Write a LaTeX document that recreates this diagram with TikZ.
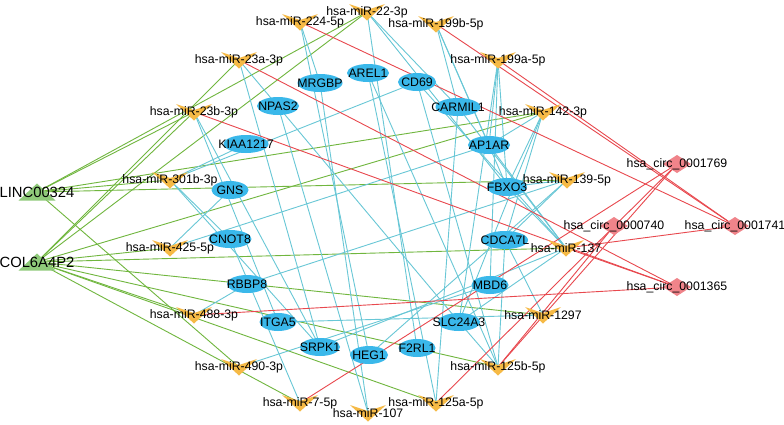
\documentclass[tikz,border=0pt]{standalone}
\usepackage{fontspec}
\setmainfont{Liberation Sans}
\pgfdeclarelayer{background}
\pgfsetlayers{background,main}
\definecolor{genefill}{RGB}{58,184,234}
\definecolor{mirfill}{RGB}{246,186,70}
\definecolor{circfill}{RGB}{240,132,138}
\definecolor{lncfill}{RGB}{143,202,122}
\definecolor{lncline}{RGB}{112,182,62}
\definecolor{mirline}{RGB}{104,199,214}
\definecolor{circline}{RGB}{232,72,78}
\begin{document}
\begin{tikzpicture}[x=1pt,y=-1pt,
  every node/.style={font=\fontsize{12.3}{14}\selectfont,inner sep=0pt},
  gene/.style={minimum width=#1,minimum height=19pt,
    path picture={\fill[genefill] (path picture bounding box.center) ellipse [x radius=0.5*#1,y radius=9pt];}},
  gene/.default=42pt,
  mir/.style={minimum width=38pt,minimum height=19pt,
    path picture={\coordinate (pp) at (path picture bounding box.center);
      \fill[mirfill] ([xshift=-18pt,yshift=8pt]pp) -- ([yshift=2pt]pp) -- ([xshift=18pt,yshift=8pt]pp) -- ([yshift=-8.5pt]pp) -- cycle;}},
  circ/.style={minimum width=30pt,minimum height=19pt,
    path picture={\coordinate (pp) at (path picture bounding box.center);
      \fill[circfill] ([xshift=-14pt]pp) -- ([yshift=9pt]pp) -- ([xshift=14pt]pp) -- ([yshift=-9pt]pp) -- cycle;}},
  lnc/.style={minimum width=38pt,minimum height=19pt,font=\fontsize{14.8}{17}\selectfont,
    path picture={\coordinate (pp) at (path picture bounding box.center);
      \fill[lncfill] ([xshift=-18.5pt,yshift=-8.5pt]pp) -- ([xshift=18.5pt,yshift=-8.5pt]pp) -- ([yshift=8.5pt]pp) -- cycle;}},
  lncedge/.style={draw=lncline,line width=0.9pt},
  miredge/.style={draw=mirline,line width=0.9pt},
  circedge/.style={draw=circline,line width=0.9pt}]
\useasboundingbox (0,0) rectangle (784,424);
% lncRNAs
\node[lnc] (LINC) at (37,192) {LINC00324};
\node[lnc] (COL) at (37,262) {COL6A4P2};
% miRNAs
\node[mir] (m22) at (367,12) {hsa-miR-22-3p};
\node[mir] (m224) at (300,22) {hsa-miR-224-5p};
\node[mir] (m199b) at (436,24) {hsa-miR-199b-5p};
\node[mir] (m23a) at (239,60) {hsa-miR-23a-3p};
\node[mir] (m199a) at (498,60) {hsa-miR-199a-5p};
\node[mir] (m23b) at (194,112) {hsa-miR-23b-3p};
\node[mir] (m142) at (543,112) {hsa-miR-142-3p};
\node[mir] (m301b) at (170,180) {hsa-miR-301b-3p};
\node[mir] (m139) at (567,180) {hsa-miR-139-5p};
\node[mir] (m425) at (170,248) {hsa-miR-425-5p};
\node[mir] (m137) at (566,248) {hsa-miR-137};
\node[mir] (m488) at (194,315) {hsa-miR-488-3p};
\node[mir] (m1297) at (543,315) {hsa-miR-1297};
\node[mir] (m490) at (239,367) {hsa-miR-490-3p};
\node[mir] (m125b) at (498,367) {hsa-miR-125b-5p};
\node[mir] (m7) at (300,403) {hsa-miR-7-5p};
\node[mir] (m125a) at (436,403) {hsa-miR-125a-5p};
\node[mir] (m107) at (368,413) {hsa-miR-107};
% mRNAs
\node[gene=45pt] (MRGBP) at (320,83) {MRGBP};
\node[gene] (AREL1) at (368,73) {AREL1};
\node[gene=38pt] (CD69) at (417,82) {CD69};
\node[gene] (NPAS2) at (278,106) {NPAS2};
\node[gene=45pt] (CARMIL1) at (458,107) {CARMIL1};
\node[gene] (AP1AR) at (489,145) {AP1AR};
\node[gene=40pt] (FBXO3) at (507,187) {FBXO3};
\node[gene=45pt] (KIAA1217) at (246,144) {KIAA1217};
\node[gene=37pt] (GNS) at (230,190) {GNS};
\node[gene=43pt] (CNOT8) at (230,239) {CNOT8};
\node[gene=46pt] (CDCA7L) at (505,240) {CDCA7L};
\node[gene=40pt] (RBBP8) at (247,284) {RBBP8};
\node[gene=37pt] (MBD6) at (490,285) {MBD6};
\node[gene=37pt] (ITGA5) at (278,322) {ITGA5};
\node[gene=42pt] (SLC24A3) at (459,322) {SLC24A3};
\node[gene=40pt] (SRPK1) at (320,347) {SRPK1};
\node[gene=37pt] (F2RL1) at (417,348) {F2RL1};
\node[gene=38pt] (HEG1) at (369,355) {HEG1};
% circRNAs
\node[circ] (c1769) at (677,164) {hsa\_circ\_0001769};
\node[circ] (c0740) at (614,226) {hsa\_circ\_0000740};
\node[circ] (c1741) at (735,226) {hsa\_circ\_0001741};
\node[circ] (c1365) at (677,287) {hsa\_circ\_0001365};
% edges behind the nodes
\begin{pgfonlayer}{background}
\fill[white] (0,0) rectangle (784,424);
\foreach \a/\b in {LINC/m22,LINC/m23b,LINC/m301b,LINC/m139,LINC/m142,LINC/m490,
  COL/m23a,COL/m23b,COL/m22,COL/m142,COL/m425,COL/m137,COL/m1297,COL/m488,
  COL/m125b,COL/m125a,COL/m7}
  \draw[lncedge] (\a.center) -- (\b.center);
\foreach \a/\b in {m22/CARMIL1,m22/FBXO3,m22/F2RL1,m224/MRGBP,m224/HEG1,
  m199b/CARMIL1,m199b/AP1AR,m199b/FBXO3,m199a/AP1AR,m199a/FBXO3,m199a/SLC24A3,m199a/MBD6,
  m142/AP1AR,m142/FBXO3,m142/CDCA7L,m142/SLC24A3,m139/CDCA7L,m139/FBXO3,m139/HEG1,m139/RBBP8,
  m137/FBXO3,m137/CARMIL1,m137/CD69,m137/SRPK1,m137/SLC24A3,m137/AP1AR,
  m1297/ITGA5,m1297/CDCA7L,m125b/SLC24A3,m125b/CD69,m125b/AREL1,m125b/CDCA7L,
  m125a/AREL1,m125a/CARMIL1,m107/NPAS2,m107/MRGBP,m7/CNOT8,m490/MBD6,m488/RBBP8,
  m425/GNS,m425/AP1AR,m301b/KIAA1217,m301b/CD69,m301b/SRPK1,m301b/CNOT8,
  m23b/SRPK1,m23b/ITGA5,m23a/SLC24A3,m23a/SRPK1}
  \draw[miredge] (\a.center) -- (\b.center);
\foreach \a/\b in {m199b/c1741,m199a/c1741,m224/c1741,m137/c1741,
  m7/c1769,m125a/c1769,m125b/c1769,m125b/c0740,
  m23a/c1365,m23b/c1365,m488/c1365,m137/c1365}
  \draw[circedge] (\a.center) -- (\b.center);
\end{pgfonlayer}
\end{tikzpicture}
\end{document}
